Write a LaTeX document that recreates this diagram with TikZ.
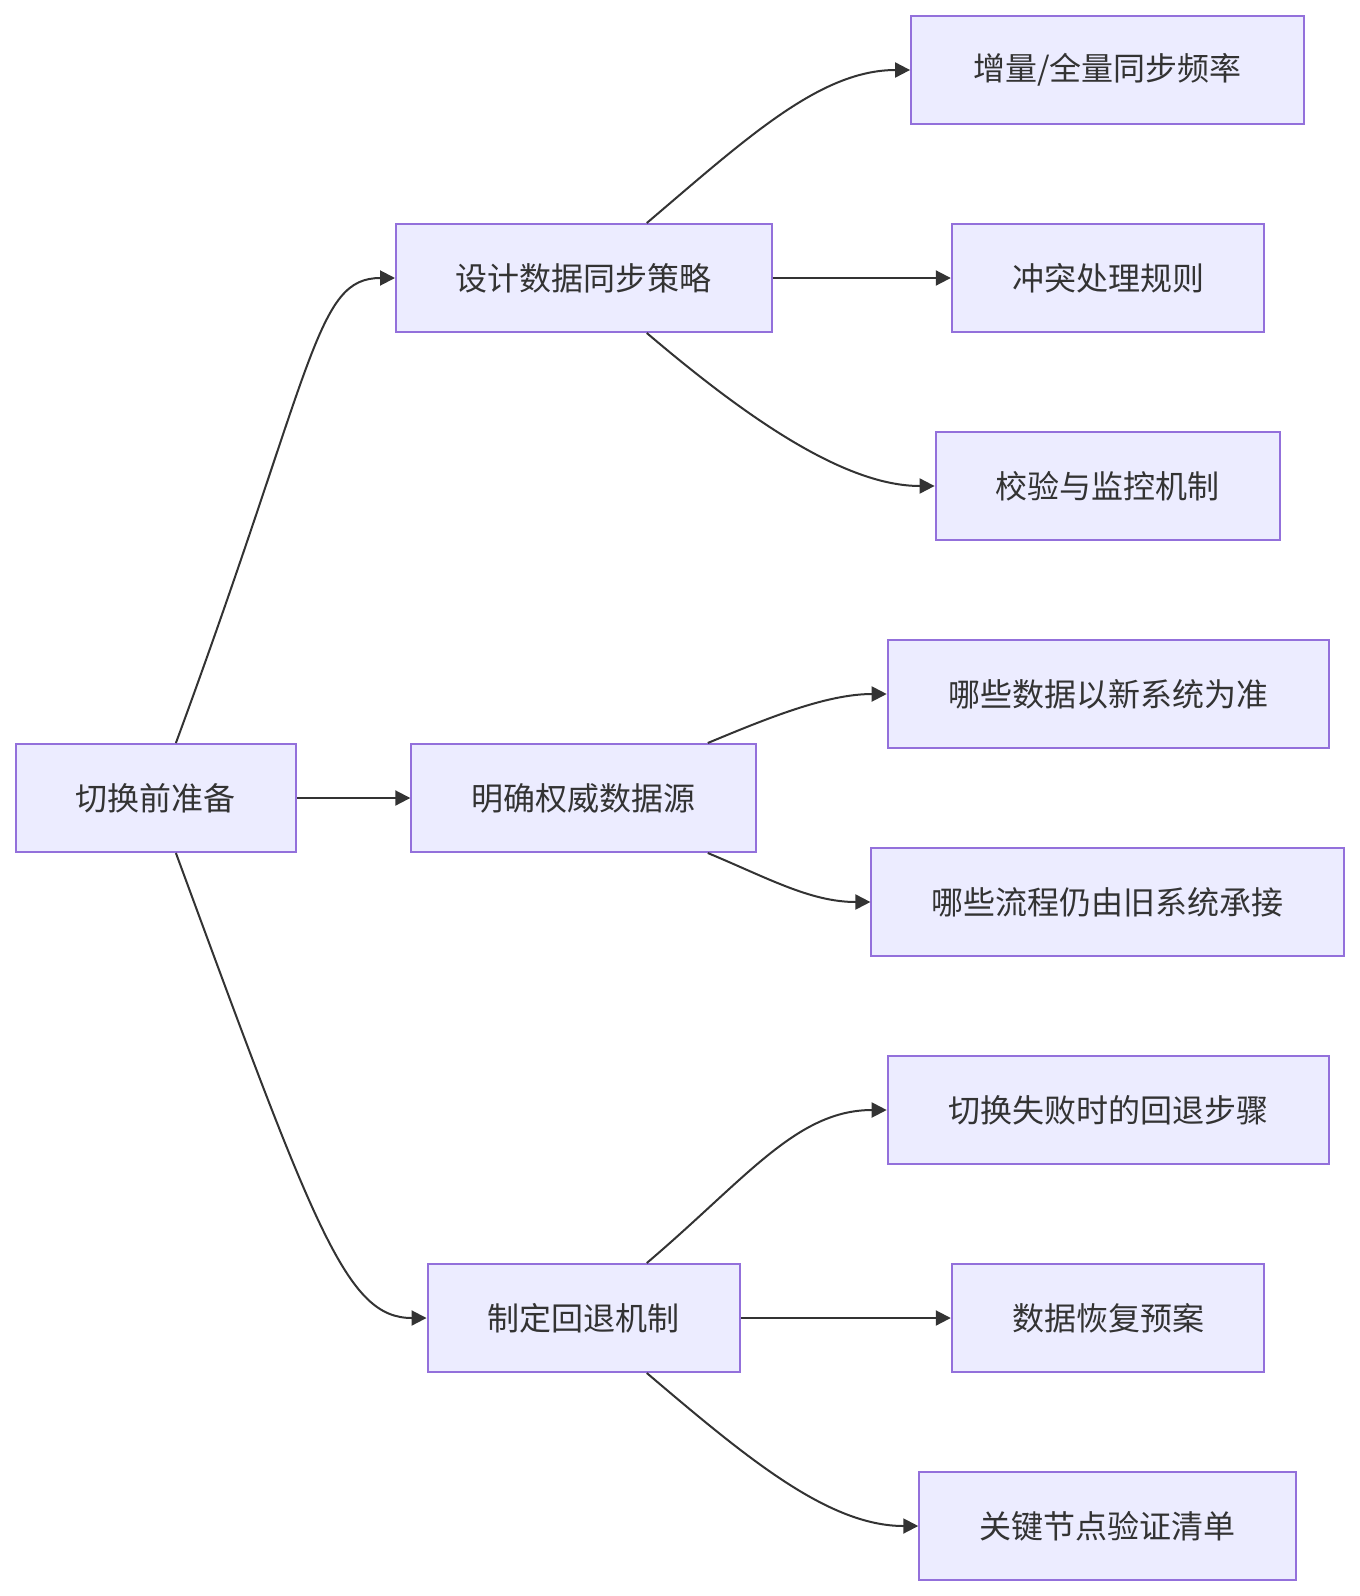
\documentclass[tikz,border=0pt]{standalone}
\usepackage{fontspec}
\newfontfamily\cjk{Noto Sans CJK SC}
\usetikzlibrary{arrows.meta,calc}
\definecolor{nodefill}{HTML}{ECECFF}
\definecolor{nodeline}{HTML}{9370DB}
\definecolor{ink}{HTML}{333333}
\tikzset{
  box/.style={draw=nodeline,fill=nodefill,line width=2pt,text=ink,inner sep=0pt,
    minimum height=108pt,font=\cjk\fontsize{32}{38}\selectfont},
  link/.style={draw=ink,line width=2pt,-{Triangle[length=15pt,width=15pt]}}
}
\begin{document}
\begin{tikzpicture}[x=1pt,y=-1pt]
\useasboundingbox (0,0) rectangle (1360,1596);
\node[box,minimum width=280.5pt] (A) at (155.9,798) {切换前准备};
\node[box,minimum width=375.6pt] (B) at (583.8,278) {设计数据同步策略};
\node[box,minimum width=345pt] (C) at (583.8,798) {明确权威数据源};
\node[box,minimum width=312.5pt] (D) at (583.8,1318) {制定回退机制};
\node[box,minimum width=393pt] (E) at (1107.6,70) {增量/全量同步频率};
\node[box,minimum width=312.6pt] (F) at (1108.1,278) {冲突处理规则};
\node[box,minimum width=344pt] (G) at (1107.6,486) {校验与监控机制};
\node[box,minimum width=440.8pt] (H) at (1108.1,694) {哪些数据以新系统为准};
\node[box,minimum width=472.4pt] (I) at (1107.6,902) {哪些流程仍由旧系统承接};
\node[box,minimum width=440.8pt] (J) at (1108.1,1110) {切换失败时的回退步骤};
\node[box,minimum width=312.6pt] (K) at (1108.1,1318) {数据恢复预案};
\node[box,minimum width=376.7pt] (L) at (1107.6,1526) {关键节点验证清单};

\coordinate (a1) at ([xshift=20pt]A.north);
\coordinate (a2) at ([xshift=20pt]A.south);
\coordinate (b1) at ([xshift=63pt]B.north);
\coordinate (b2) at ([xshift=63pt]B.south);
\coordinate (c1) at ([xshift=124pt]C.north);
\coordinate (c2) at ([xshift=124pt]C.south);
\coordinate (d1) at ([xshift=63pt]D.north);
\coordinate (d2) at ([xshift=63pt]D.south);

\draw[link] (a1) .. controls +(140,-380) and +(-80,0) .. (B.west);
\draw[link] (A.east) -- (C.west);
\draw[link] (a2) .. controls +(140,380) and +(-80,0) .. (D.west);

\draw[link] (b1) .. controls +(100,-85) and +(-90,0) .. (E.west);
\draw[link] (B.east) -- (F.west);
\draw[link] (b2) .. controls +(100,85) and +(-90,0) .. (G.west);

\draw[link] (c1) .. controls +(60,-25) and +(-60,0) .. (H.west);
\draw[link] (c2) .. controls +(60,25) and +(-60,0) .. (I.west);

\draw[link] (d1) .. controls +(100,-85) and +(-90,0) .. (J.west);
\draw[link] (D.east) -- (K.west);
\draw[link] (d2) .. controls +(100,85) and +(-90,0) .. (L.west);
\end{tikzpicture}
\end{document}
